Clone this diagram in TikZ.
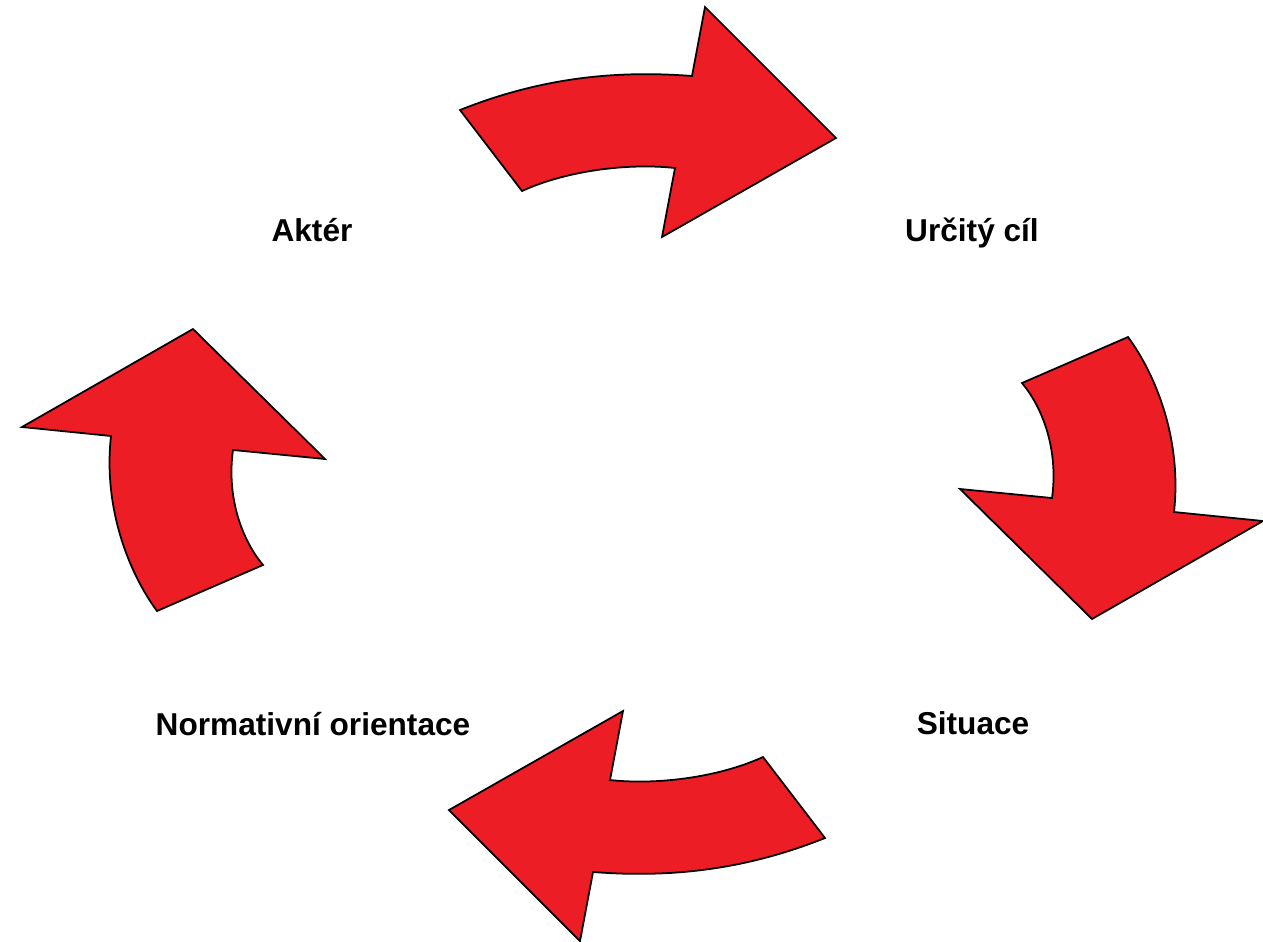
\documentclass[tikz,border=0pt]{standalone}
\usepackage{fontspec}
\setmainfont{Liberation Sans}
\definecolor{cyclered}{RGB}{237,29,37}
\tikzset{
    bend arrow/.style={draw=black,fill=cyclered,line width=1pt,line join=miter},
    cycle label/.style={font=\fontsize{18}{21}\selectfont\bfseries,anchor=base,inner sep=0pt},
}
\newcommand{\toparrow} {
    \draw[bend arrow] (460,110) .. controls (540,78) and (615,70) .. (692,76)
        -- (705,7) -- (836,138) -- (662,237) -- (675,168)
        .. controls (630,163) and (568,170) .. (522,191) -- cycle;
}
\newcommand{\sidearrow} {
    \draw[bend arrow] (1022,383) -- (1128,337)
        .. controls (1156,375) and (1182,440) .. (1174,512)
        -- (1263,521) -- (1092,619) -- (960,489) -- (1052,498)
        .. controls (1058,455) and (1046,412) .. (1022,383) -- cycle;
}
\begin{document}
\begin{tikzpicture}[x=0.02cm,y=-0.02cm]
    \useasboundingbox (0,0) rectangle (1263,941);
    \toparrow
    \sidearrow
    \begin{scope}[rotate around={180:(642.5,474)}]
        \toparrow
        \sidearrow
    \end{scope}
    \node[cycle label] (actor) at (312,241) {Aktér};
    \node[cycle label] (goal) at (972,241) {Určitý cíl};
    \node[cycle label] (situation) at (973,734) {Situace};
    \node[cycle label] (norms) at (313,735) {Normativní orientace};
\end{tikzpicture}
\end{document}
